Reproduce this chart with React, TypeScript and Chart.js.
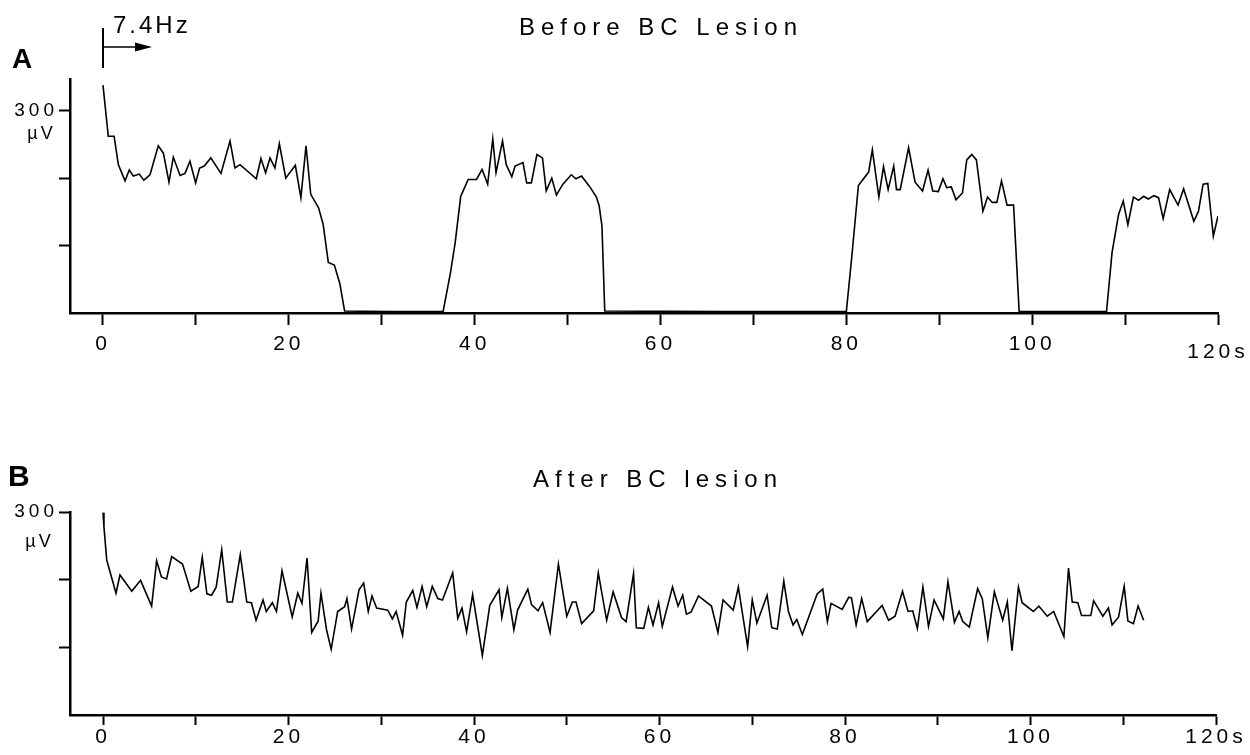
import React, { useEffect, useRef } from 'react';
import { Chart, registerables } from 'chart.js';

Chart.register(...registerables);

const FONT = '"Liberation Sans", Arial, Helvetica, sans-serif';

// ---- axis ticks ----
const xTickValues = [0, 10, 20, 30, 40, 50, 60, 70, 80, 90, 100, 110, 120];
const yTickValues = [100, 200, 300];
const xLabelEvery = 20;
const xLastLabel = '120s';
const yLabelValue = 300;
const yUnit = 'µV';

// ---- texts ----
const titleA = 'Before BC Lesion';
const titleB = 'After BC lesion';
const panelA = 'A';
const panelB = 'B';
const stimLabel = '7.4Hz';

// ---- panel A: before lesion (time s, amplitude µV) ----
const aTime = [
  0, 0.57, 1.2, 1.65, 2.37, 2.83, 3.26, 3.9, 4.4, 5.06, 5.95, 6.5, 7.1, 7.57, 8.3, 8.83, 9.36, 9.97,
  10.4, 10.9, 11.6, 12.7, 13.67, 14.2, 14.75, 16.5, 17.0, 17.5, 17.98, 18.5, 18.98, 19.67, 20.7, 21.3,
  21.85, 22.36, 23.2, 23.7, 24.25, 24.9, 25.5, 26.0, 31, 36.6,
  37.4, 37.9, 38.5, 39.3, 40.2, 40.8, 41.4, 41.95, 42.3, 43.0, 43.4, 44.0, 44.35, 45.2, 45.6, 46.1,
  46.7, 47.3, 47.7, 48.3, 48.8, 49.5, 50.4, 50.9, 51.5, 52.4, 53.1, 53.4, 53.7, 54.0, 67, 80.0,
  80.6, 81.3, 82.4, 82.8, 83.5, 84.0, 84.5, 85.1, 85.4, 85.8, 86.7, 87.4, 88.2, 88.8, 89.3, 89.9,
  90.4, 90.8, 91.3, 91.8, 92.5, 92.96, 93.5, 94.0, 94.7, 95.2, 95.7, 96.2, 96.7, 97.3, 98.0, 98.6,
  103, 108.0,
  108.6, 109.3, 109.8, 110.3, 110.9, 111.45, 112.0, 112.5, 113.1, 113.6, 114.1, 114.8, 115.7, 116.3,
  117.4, 117.9, 118.4, 118.9, 119.5, 120.0,
];
const aAmp = [
  338, 262, 262, 220, 196, 212, 203, 206, 197, 205, 248, 237, 194, 231, 204, 207, 225, 193,
  215, 218, 230, 207, 255, 215, 220, 199, 229, 208, 230, 215, 251, 200, 219, 171,
  248, 176, 156, 131, 75, 71, 43, 3, 2, 2,
  60, 104, 173, 198, 198, 213, 191, 258, 208, 255, 220, 202, 218, 223, 193, 193,
  235, 230, 181, 200, 175, 191, 205, 199, 203, 187, 172, 159, 129, 3, 2, 2,
  85, 189, 209, 242, 172, 217, 183, 218, 183, 183, 245, 194, 181, 212, 181, 180,
  199, 186, 187, 168, 178, 227, 235, 227, 151, 172, 164, 164, 196, 160, 160, 2,
  2, 2,
  90, 146, 166, 131, 172, 167, 173, 169, 174, 171, 140, 183, 160, 184,
  136, 151, 191, 192, 114, 144,
];

// ---- panel B: after lesion (time s, amplitude µV) ----
const bTime = [
  0, 0.1, 0.4, 1.4, 1.83, 3.1, 4.05, 5.24, 5.78, 6.3, 6.85, 7.4, 8.57, 9.47, 10.26, 10.7, 11.2, 11.7,
  12.2, 12.8, 13.4, 13.95, 14.8, 15.5, 16.0, 16.5, 17.25, 17.6, 18.26, 18.7, 19.3, 20.4, 21.0, 21.45,
  22.0, 22.5, 23.2, 23.5, 24.1, 24.6, 25.3, 26.05, 26.3, 26.8, 27.6, 28.1, 28.6, 29.0, 29.5, 30.7,
  31.2, 31.6, 32.3, 32.7, 33.4, 33.85, 34.4, 34.9, 35.5, 36.1, 36.6, 37.7, 38.25, 38.7, 39.2, 39.85,
  40.9, 41.7, 42.7, 43.0, 43.6, 44.3, 44.7, 45.8, 46.2, 46.9, 47.4, 48.2, 49.1, 50.0, 50.6, 51.0,
  51.6, 52.9, 53.4, 54.3, 55.0, 55.9, 56.4, 57.2, 57.5, 58.3, 58.8, 59.3, 59.9, 60.3, 61.4, 62.0,
  62.5, 62.9, 63.4, 64.2, 65.6, 66.3, 66.85, 67.95, 68.5, 69.5, 70.0, 70.5, 71.6, 72.1, 72.7, 73.4,
  73.9, 74.4, 74.8, 75.4, 77.0, 77.6, 78.1, 78.5, 79.7, 80.4, 80.7, 81.2, 81.8, 82.4, 84.0, 84.7,
  85.4, 86.2, 86.8, 87.3, 87.8, 88.4, 89.0, 89.6, 90.6, 91.1, 91.8, 92.3, 92.7, 93.4, 94.3, 94.8,
  95.4, 96.1, 97.0, 97.5, 98.0, 98.7, 99.1, 100.3, 100.9, 101.8, 102.5, 103.6, 104.1, 104.5, 105.1,
  105.5, 106.5, 106.8, 107.8, 108.4, 108.8, 109.5, 110.1, 110.5, 111.1, 111.6, 112.2,
];
const bAmp = [
  299, 278, 229, 180, 207, 183, 199, 161, 228, 204, 201, 234, 223, 183, 190, 233, 179, 177,
  189, 244, 167, 167, 237, 167, 166, 140, 170, 153, 166, 153, 213, 145, 180, 165,
  232, 122, 139, 180, 126, 97, 153, 160, 172, 127, 185, 195, 153, 176, 158, 155,
  142, 153, 118, 167, 184, 159, 190, 160, 190, 172, 170, 210, 143, 158, 123, 178,
  88, 162, 185, 144, 187, 126, 155, 186, 163, 154, 166, 122, 223, 146, 167, 167,
  135, 154, 210, 140, 182, 144, 138, 209, 129, 128, 159, 133, 166, 131, 189, 161,
  177, 149, 152, 176, 161, 122, 170, 155, 189, 101, 170, 136, 177, 129, 127, 198,
  153, 133, 141, 119, 179, 186, 138, 165, 156, 174, 173, 133, 172, 138, 162, 140,
  146, 183, 153, 154, 128, 189, 131, 170, 142, 197, 137, 153, 138, 130, 187, 172,
  114, 182, 140, 167, 95, 189, 166, 153, 161, 146, 153, 116, 217, 167, 166,
  147, 147, 169, 146, 158, 133, 145, 190, 139, 135, 161, 140,
];

type PanelSpec = {
  time: number[];
  amp: number[];
  height: number;
  top: number;
  bottom: number;
  right: number;
  xMin: number;
  yMax: number;
  tickLen: number;
  xLabelPad: number;
  xLineHeight: number;
  lastLabelDrop: boolean;
  draw: (ctx: CanvasRenderingContext2D) => void;
};

function text(ctx: CanvasRenderingContext2D, s: string, x: number, y: number, font: string, spacing: number, align: CanvasTextAlign) {
  ctx.save();
  ctx.font = font;
  (ctx as any).letterSpacing = spacing + 'px';
  ctx.fillStyle = '#000';
  ctx.textAlign = align;
  ctx.textBaseline = 'alphabetic';
  const dx = align === 'center' ? spacing / 2 : align === 'right' ? spacing : 0;
  ctx.fillText(s, x + dx, y);
  ctx.restore();
}

function buildConfig(p: PanelSpec): any {
  const overlay = {
    id: 'overlay',
    beforeDraw(chart: any) {
      (chart.ctx as any).letterSpacing = '4px';
    },
    afterDraw(chart: any) {
      (chart.ctx as any).letterSpacing = '0px';
      p.draw(chart.ctx);
    },
  };
  return {
    type: 'line',
    data: {
      datasets: [
        {
          data: p.time.map((t, i) => ({ x: t, y: p.amp[i] })),
          borderColor: '#000',
          borderWidth: 1.6,
          pointRadius: 0,
          tension: 0,
          fill: false,
        },
      ],
    },
    options: {
      animation: false,
      responsive: false,
      events: [],
      layout: { padding: { top: p.top, right: p.right, left: 0, bottom: 0 } },
      plugins: { legend: { display: false }, tooltip: { enabled: false }, title: { display: false } },
      scales: {
        x: {
          type: 'linear',
          min: p.xMin,
          max: 120,
          afterBuildTicks: (s: any) => {
            s.ticks = xTickValues.map((v) => ({ value: v }));
          },
          afterFit: (s: any) => {
            s.height = p.height - p.bottom;
            s.paddingLeft = 0;
            s.paddingRight = 0;
          },
          ticks: {
            autoSkip: false,
            maxRotation: 0,
            color: '#000',
            padding: p.xLabelPad,
            font: { family: FONT, size: 21, lineHeight: p.xLineHeight + 'px' },
            callback: (v: number) =>
              v % xLabelEvery === 0
                ? v === 120
                  ? p.lastLabelDrop
                    ? ['', xLastLabel]
                    : xLastLabel
                  : String(v)
                : '',
          },
          grid: { drawOnChartArea: false, drawTicks: true, tickLength: p.tickLen, tickWidth: 2, tickColor: '#000' },
          border: { display: true, color: '#000', width: 2.5 },
        },
        y: {
          type: 'linear',
          min: 0,
          max: p.yMax,
          afterBuildTicks: (s: any) => {
            s.ticks = yTickValues.map((v) => ({ value: v }));
          },
          afterFit: (s: any) => {
            s.width = 70;
            s.paddingTop = 0;
            s.paddingBottom = 0;
          },
          ticks: {
            color: '#000',
            padding: 1,
            font: { family: FONT, size: 19 },
            callback: (v: number) => (v === yLabelValue ? String(v) : ''),
          },
          grid: { drawOnChartArea: false, drawTicks: true, tickLength: 11, tickWidth: 2, tickColor: '#000' },
          border: { display: true, color: '#000', width: 2.5 },
        },
      },
    },
    plugins: [overlay],
  };
}

const specA: PanelSpec = {
  time: aTime,
  amp: aAmp,
  height: 375,
  top: 79,
  bottom: 313,
  right: 32,
  xMin: -3.55,
  yMax: 347,
  tickLen: 12,
  xLabelPad: 15,
  xLineHeight: 8,
  lastLabelDrop: true,
  draw: (ctx) => {
    text(ctx, titleA, 658, 35, `24px ${FONT}`, 6, 'center');
    text(ctx, panelA, 12, 68, `bold 28px ${FONT}`, 0, 'left');
    text(ctx, stimLabel, 113, 33, `24px ${FONT}`, 3, 'left');
    text(ctx, yUnit, 40, 139, `18px ${FONT}`, 3, 'center');
    ctx.save();
    ctx.strokeStyle = '#000';
    ctx.fillStyle = '#000';
    ctx.lineWidth = 2;
    ctx.beginPath();
    ctx.moveTo(103, 28);
    ctx.lineTo(103, 68);
    ctx.stroke();
    ctx.lineWidth = 1.6;
    ctx.beginPath();
    ctx.moveTo(103, 47);
    ctx.lineTo(140, 47);
    ctx.stroke();
    ctx.beginPath();
    ctx.moveTo(152, 47);
    ctx.lineTo(135, 42.5);
    ctx.lineTo(135, 51.5);
    ctx.closePath();
    ctx.fill();
    ctx.restore();
  },
};

const specB: PanelSpec = {
  time: bTime,
  amp: bAmp,
  height: 380,
  top: 137,
  bottom: 340,
  right: 34,
  xMin: -3.56,
  yMax: 300,
  tickLen: 10,
  xLabelPad: 0,
  xLineHeight: 25,
  lastLabelDrop: false,
  draw: (ctx) => {
    text(ctx, titleB, 655, 112, `24px ${FONT}`, 6, 'center');
    text(ctx, panelB, 8, 111, `bold 30px ${FONT}`, 0, 'left');
    text(ctx, yUnit, 38, 172, `18px ${FONT}`, 3, 'center');
  },
};

function Panel({ spec, top }: { spec: PanelSpec; top: number }) {
  const ref = useRef<HTMLCanvasElement | null>(null);
  useEffect(() => {
    if (!ref.current) return;
    const chart = new Chart(ref.current, buildConfig(spec));
    return () => chart.destroy();
  }, [spec]);
  return (
    <canvas
      ref={ref}
      width={1250}
      height={spec.height}
      style={{ position: 'absolute', left: 0, top, width: 1250, height: spec.height, display: 'block' }}
    />
  );
}

export default function App() {
  return (
    <div style={{ position: 'absolute', left: 0, top: 0, width: 1250, height: 755, background: '#fff' }}>
      <Panel spec={specA} top={0} />
      <Panel spec={specB} top={375} />
    </div>
  );
}
